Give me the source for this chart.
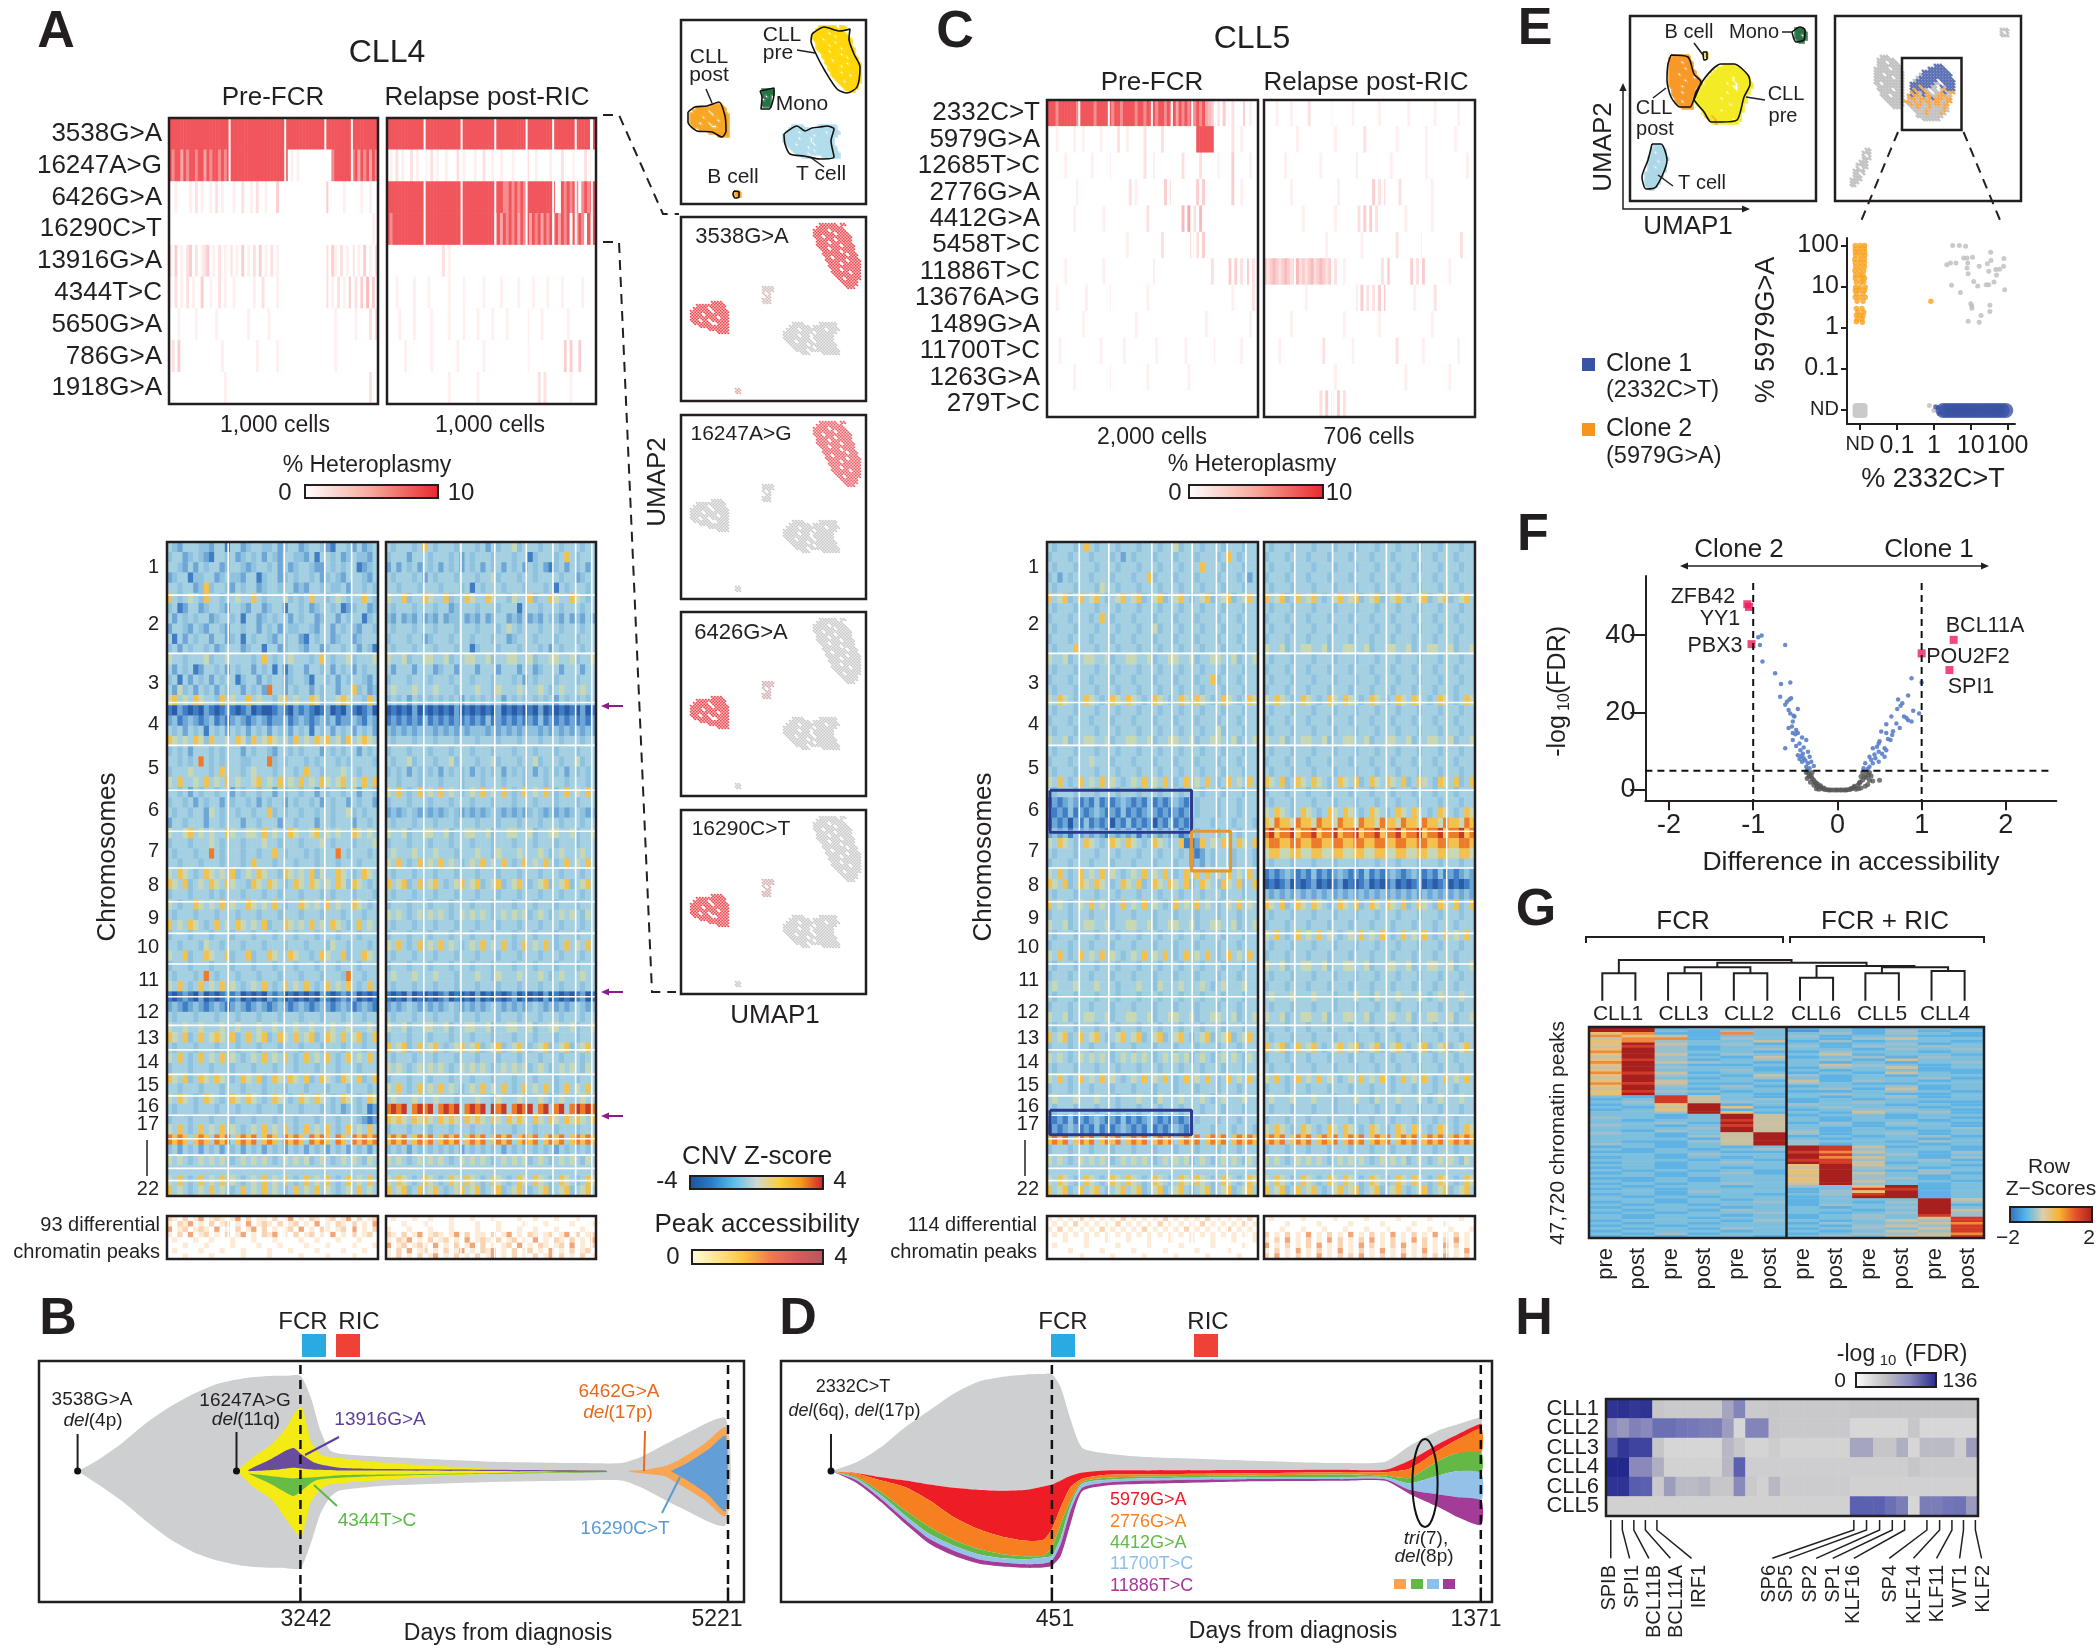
<!DOCTYPE html>
<html style="height: 100%">

<head>
    <meta charset="utf-8">
</head>

<body style="height: 100%; margin: 0; background: #fff">
    <div id="main" style="width: 2100px; height: 1652px"></div>

    <script type="text/javascript" src="https://cdn.jsdelivr.net/npm/echarts@6/dist/echarts.min.js"></script>

    <script type="text/javascript">
        // ---- panel A / C mutation heatmaps (one digit per cell, 0-9 = % heteroplasmy)
        var cll4Mutations = ['3538G>A', '16247A>G', '6426G>A', '16290C>T', '13916G>A', '4344T>C', '5650G>A', '786G>A', '1918G>A'];
        var cll4PreMut = [
            '888888888888888888888888888888888888888888888888888888888888888888888888',
            '868858688688586886868888888888888888888880101000000000006888888685868586',
            '001000010201001020100010020010200100030000000000000000300000100000100100',
            '000000000000000000000000000000000000000000000000000000000000000000000010',
            '203010230201230102010201030102030102010000000000000000203102010201030102',
            '102010201003001002010010000001002000010000000000000000201020103020304030',
            '000100000100000010000000000100000010000000000000000000000100000010000202',
            '020300000000000000100000000000100000010000000000000000000100000000000000',
            '000000000000000000010000000000000000000000000000000000000000000000000200'
        ];
        var cll4PostMut = [
            '888888888888888888888888888888888888888888888888888888888888888888888808',
            '010201002010010201001000201000100200100100010000200100001000200010002010',
            '888888888888888888888888888888888888888866868686888888888800868686068688',
            '868888888888888888888888888888888888868586868586858685868685868085860868',
            '000000000000000000020100000000000000000000000000000000000000000000000000',
            '000100000100001000000100001000000100000100000100001000010000100000010000',
            '000010000100000100000100001000010000100001000000100001000000001000000000',
            '000000100000000100000000100000000100000000000000100000000000030300300000',
            '000000000000000000000100000000010000000000000000000020200000000100000000'
        ];
        var cll5Mutations = ['2332C>T', '5979G>A', '12685T>C', '2776G>A', '4412G>A', '5458T>C', '11886T>C', '13676A>G', '1489G>A', '11700T>C', '1263G>A', '279T>C'];
        var cll5PreMut = [
            '888688888868888868888868868888688688868868685868686868543020310200030100',
            '000100000100100000100000200100000200000200000000000888888000000200100000',
            '000000100000000100000100000000000200100000000020000020000010000300000100',
            '000000000010000000000000000020100000000030200000000303000000000300100000',
            '000000000100000000010000000000000020000000000040502040000000000000000000',
            '000000000000000000000000000100000000000200000000030203000000000000000000',
            '000000100000000000010000000000000000100000000000000000002000003030203020',
            '000100000000010000000100000000000010000000000000000000000000000100000020',
            '000000000000100000000000000000100000000000000000000000100000000000000100',
            '000010000000000000100000001000000000010000000001000000000100000000100000',
            '000000000100000000000100000000000010000000000000100000000000000000000000',
            '000000000000000000000000000000000000000000000000000000000000000000000000'
        ];
        var cll5PostMut = [
            '000010000100000200000001000000100000000100000000010000000010000000100000',
            '000000000001000000000000100000000020000000000100000000010000000001000000',
            '000000010000000000010000000000020000000000010000000000010000000000000100',
            '000000000100000000000000010000000000030202000020000000000100000000000000',
            '000000000000010000000000100000002030302000000000100000000100000000000000',
            '000000000000000000000100000000000100000000000200000001000000000000020000',
            '323432343234232342343230200100000000000020300000003020300000000100000000',
            '000000000000001000000000000000020302020303000000000100000020000000000000',
            '000000000100000000000000000100000000000100000000000000000100000000000000',
            '000001000000000000002000000000100000000000000200000000100000000000100000',
            '000000000000000000000000100000000000000000000000100000000000000100000000',
            '000000000000000000020302030200000000000000000000000000000000000000000000'
        ];

        // ---- CNV Z-score heatmaps (digit 0 = -4 ... 9 = +4), rows run top to bottom
        // coarse hand-typed estimate: only the large bands are read from the picture,
        // the speckle between them is patterned and is not cell-level data
        var cll4PreCnv = [
            '4324443324414423443342344234432144324234', '3442343214434234342432443324144342343324',
            '4432424344234432344342423443224343441234', '2344133442343324413442343443423432444324',
            '4434423734432434423443442324434334244343', '7434643744344644743444634347443464344743',
            '3412442344324432442344144342344341234423', '4243434423443414423434424344234424344134',
            '2443243244324434424342433443244243432443', '4142434424423414344324344214344234423444',
            '3424344342344423441442344324423443442431', '6443444634464444347434464443474344634446',
            '4243412443424344243414134424434243424344', '3414243424344134424344234431443424344324',
            '4263424342434424342844243442434424473423', '6746476443746447464436746447634467644374',
            '1021010210121012010012102121012010210120', '2312321231212321232122312321232312232132',
            '4342434143424342434243424341434243424342', '7646476374464763746764637464767463746764',
            '3434244434344424344324434344424343442434', '4434348434344433444834344434344434344443',
            '3444644434744434644434443474434446443444', '6474464746474644674647464746476467464747',
            '4434243443442434434424344344243443442443', '3443424344243443424344243443424344243442',
            '4344344264344344344734344344344344634344', '2443444244344424434442443444244344424434',
            '6446746464476446647464476446746464476464', '3444344464344434446443444344464344434446',
            '4344434484344434434474344434344484344434', '4434443444344434744434443444344434443444',
            '6476434764647346476443764647364476434764', '7647346476476443764764347647646476376434',
            '3444344434344434443443444344434344434443', '6434476464746447646474344764647464476434',
            '4344434443444344434443444344434443444344', '7464764347464764647344764647464764347464',
            '3444344434443444344434443444344434443444', '4434443644344434443444344434443644344434',
            '6447344764473447344764476443476447344764', '3444344434443444344434443444344434443444',
            '4344434843444344434443444344434443844344', '6474347464746434647434746474347464743474',
            '1012102010121201010212010101021012120101', '2321232123212321232123212321232123212321',
            '4344434443444344434443444344434443444344', '6446446444644644464464446446444644644464',
            '7647347467647347467347647467347647467347', '4344434443444344434443444344434443444344',
            '6474347464746434647464743474647434746474', '3444344434443444344434443444344434443444',
            '7647347647643476473476476473476437647347', '4434443444344434443444344434443444344434',
            '6476434764347647643476434764764347643476', '4344434443444344434443444344434342343412',
            '3444344434443444344434443444344434443212', '6474347464746434647464743474647434746474',
            '8787478748784787847874878748787487487878', '3424342434243424342434243424342434243424',
            '6464346464643464646434646463464346464364', '4444444444444444444444444444444444444444',
            '6474347464746434647464743474647434746474', '7464346474643474647464347464746434647464'
        ];
        var cll4PostCnv = [
            '4344434743444344434243446344434443444344', '3444244434443424344434443441344434743444',
            '2424342434243424342434243424342134243424', '4344434243444344434463444344344443442344',
            '4434443444344434143444344434443414344434', '6447344764473447644764436447344764476434',
            '4344434443442344434443444144434443444344', '3242324232423342324234423242324332423242',
            '4344434443444344434443464344434443444344', '3444344234443444344434423444344434443444',
            '4344434443444344134443444344434243444344', '6446344664463446644634466446344664463446',
            '4244424442344244424442444244234442444244', '3444344434443444344434443424344434443444',
            '4644464446444344464436444644464346444644', '3434243434343424343434243434343424343434',
            '0101020101010201010102010101020101010201', '1212121312121212121312121212131212121212',
            '3232323332323232333232323233323232323232', '4344434443444344434443444344434443444344',
            '3444344434443444344434443444344434443444', '4344634443446344434463444344634443446344',
            '3434243434243434243434243434243434243434', '4434443444344434443444344434443444344434',
            '6474347464746434647464743474647434746474', '3444344434443444344434443444344434443444',
            '2323432323234323232343232323432323234323', '4344434443444344434443444344434443444344',
            '6446344664463446644634466446344664463446', '3444344434443444344434443444344434443444',
            '4644464446444344464436444644464346444644', '6474347464746434647464743474647434746474',
            '4344434443444344434443444344434443444344', '7467347467434674673467346743467346734674',
            '4344434443444344434443444344434443444344', '3444344434443444344434443444344434443444',
            '6464346464643464646434646463464346464364', '4344434443444344434443444344434443444344',
            '3444344434443444344434443444344434443444', '6474347464746434647464743474647434746474',
            '4344434443444344434443444344434443444344', '3444344434443444344434443444344434443444',
            '4644464446444344464436444644464346444644', '4344434443444344434443444344434443444344',
            '1010201010120101020101012010102010101201', '2323432323234323232343232323432323234323',
            '4344434443444344434443444344434443444344', '6446344664463446644634466446344664463446',
            '3444344434443444344434443444344434443444', '7467347467434674673467346743467346734674',
            '4344434443444344434443444344434443444344', '6464346464643464646434646463464346464364',
            '3444344434443444344434443444344434443444', '6474347464746434647464743474647434746474',
            '4644464446444344464436444644464346444644', '8989489894898948989498948989489489489898',
            '7676476764767647676476476764764764767647', '3444344434443444344434443444344434443444',
            '7878478784787847878478784787847878478787', '3434243434343424343434243434343424343434',
            '6464346464643464646434646463464346464364', '4444444444444444444444444444444444444444',
            '6476434764347647643476434764764347643476', '7467347467434674673467346743467346734674'
        ];
        var cll5PreCnv = [
            '4344434743444344434443446344434443444344', '3444344434443424344434443444344434743444',
            '4344434443444344434443444344474443444344', '3424344434443444344734443444344434443424',
            '4344434443644344434443444344434443444344', '7467347467434674673467346743467346734674',
            '4344434443444344434443444344434443444344', '3444344434743444344434443444344434443444',
            '4344434443444344434463444344434443444344', '3444344434443444344434443444344434443444',
            '4344474443444344434443444344434443444344', '6446344664463446644634466446344664463446',
            '4344434443444344434443444344434443444344', '3444344434443444344434443444344734443444',
            '4344434443444344434443444344434443444344', '6476434764347647643476434764764347643476',
            '4344434443444344434443444344434443444344', '3444344434443444344434443444344434443444',
            '4344434443444344434443444344434463444344', '6446344664463446644634466446344664463446',
            '4344434443444344434443444344434443444344', '3444344464443444344434443444344434443444',
            '4344434443444344434443444344434443444344', '6474347464746434647464743474647434746474',
            '4344434443444344434443444344434443444344', '1212321213121232121312123214344434443444',
            '2121312123212131212321212124344434443444', '1212021312120213121202131213444344434443',
            '2323132323213232313232323124344434443444', '6476434764347647643476434711274647647647',
            '4344434443444344434443444342124344434443', '3444344434443444344434443442324344434443',
            '6474347464746434647464743474747464746474', '7647347647643476473476476473476437647347',
            '4344434443444344434443444344434443444344', '7464346474643474647464347464746434647464',
            '3444344434443444344434443444344434443444', '6446344664463446644634466446344664463446',
            '4344434443444344434443444344434443444344', '3444344434443444344434443444344434443444',
            '6474347464746434647464743474647434746474', '4344434443444344434443444344434443444344',
            '3444344434443444344434443444344434443444', '4644464446444344464436444644464346444644',
            '4344434443444344434443444344434443444344', '3444344434443444344434443444344434443444',
            '6446344664463446644634466446344664463446', '4344434443444344434443444344434443444344',
            '7467347467434674673467346743467346734674', '3444344434443444344434443444344434443444',
            '6464346464643464646434646463464346464364', '4344434443444344434443444344434443444344',
            '6474347464746434647464743474647434746474', '3444344434443444344434443444344434443444',
            '4644464446444344464436444644464346444644', '4344434443444344434443444344434443444344',
            '2121312123212131212321212124344434443444', '1212321213121232121312123213444344434443',
            '7878478784787847878478784787847878478787', '3444344434443444344434443444344434443444',
            '6464346464643464646434646463464346464364', '4444444444444444444444444444444444444444',
            '6476434764347647643476434764764347643476', '7467347467434674673467346743467346734674'
        ];
        var cll5PostCnv = [
            '4344434443444344434443444344434443444344', '3444344434443444344434443444344434443444',
            '4344434443444344434443444344434443444344', '3444344434443444344434443444344434443444',
            '4344434443444344434443444344434443444344', '7467347467434674673467346743467346734674',
            '4344434443444344434443444344434443444344', '3444344434443444344434443444344434443444',
            '4344434443444344434443444344434443444344', '3444344434443444344434443444344434443444',
            '6446344664463446644634466446344664463446', '4344434443444344434443444344434443444344',
            '3444344434443444344434443444344434443444', '4344434443444344434443444344434443444344',
            '3444344434443444344434443444344434443444', '6476434764347647643476434764764347643476',
            '4344434443444344434443444344434443444344', '3444344434443444344434443444344434443444',
            '4344434443444344434443444344434443444344', '6446344664463446644634466446344664463446',
            '4344434443444344434443444344434443444344', '3444344434443444344434443444344434443444',
            '4344434443444344434443444344434443444344', '7647347647643476473476476473476437647347',
            '3444344434443444344434443444344434443444', '4344434443444344434443444344434443444344',
            '6476434764347647643476434764764347643476', '7687768776877687768776877687768776877687',
            '8978897889788978897889788978897889788978', '7887788778877887788778877887788778877887',
            '6776677667766776677667766776677667766776', '4344434443444344434443444344434443444344',
            '1212321213121232121312123212321213121232', '0101201012010120101201012010120101201012',
            '3232323232323232323232323232323232323232', '7647347647643476473476476473476437647347',
            '4344434443444344434443444344434443444344', '3444344434443444344434443444344434443444',
            '6474347464746434647464743474647434746474', '4344434443444344434443444344434443444344',
            '3444344434443444344434443444344434443444', '6446344664463446644634466446344664463446',
            '4344434443444344434443444344434443444344', '3444344434443444344434443444344434443444',
            '4644464446444344464436444644464346444644', '4344434443444344434443444344434443444344',
            '6446344664463446644634466446344664463446', '3444344434443444344434443444344434443444',
            '4344434443444344434443444344434443444344', '7467347467434674673467346743467346734674',
            '3444344434443444344434443444344434443444', '4344434443444344434443444344434443444344',
            '6474347464746434647464743474647434746474', '3444344434443444344434443444344434443444',
            '4644464446444344464436444644464346444644', '4344434443444344434443444344434443444344',
            '3444344434443444344434443444344434443444', '6476434764347647643476434764764347643476',
            '7878478784787847878478784787847878478787', '3444344434443444344434443444344434443444',
            '6464346464643464646434646463464346464364', '4444444444444444444444444444444444444444',
            '6476434764347647643476434764764347643476', '7467347467434674673467346743467346734674'
        ];
        var chrNames = ['1', '2', '3', '4', '5', '6', '7', '8', '9', '10', '11', '12', '13', '14', '15', '16', '17', '22'];
        var chrMidRows = [2.5, 8.1, 13.8, 17.9, 22.2, 26.3, 30.3, 33.6, 36.8, 39.7, 42.9, 46, 48.6, 50.9, 53.2, 55.2, 57, 63.4];
        var chrBreakRows = [5.2, 10.9, 15.7, 19.9, 24.3, 28.3, 31.9, 35.2, 38.3, 41.3, 44.5, 47.3, 49.7, 52.1, 54.2, 56.1, 58.4, 60, 61.3, 62.5];
        var cll4PreBreaks = [0.29, 0.556, 0.748, 0.875];
        var cll4PostBreaks = [0.18, 0.357, 0.518, 0.668, 0.795, 0.903, 0.98];
        var cll5PreBreaks = [0.153, 0.293, 0.497, 0.592, 0.688, 0.803, 0.854, 0.943];
        var cll5PostBreaks = [0.146, 0.325, 0.433, 0.58, 0.739, 0.866];

        // ---- differential peak strips (digit 0-9), patterned estimate, not cell-level data
        var cll4PrePeaks = [
            '2102013012101302011020130102101201302012', '1021301020120103012102012010301021020103',
            '3012012103010201302010120301021012030102', '1020301201020130102130102012010301020120',
            '0100010010001000100010000100100010001000', '0001000100001000010001000010001000010001',
            '0100001000100010000100010000100001000100', '0001000010000010000100000100001000010000'
        ];
        var cll4PostPeaks = [
            '0100010010001000100010000100100010001000', '0001000100001000010001000010001000010001',
            '1000100010001000010001000100100010000100', '2102013012101302011020130102101201302012',
            '1021301020120103012102012010301021020103', '3012012103010201302010120301021012030102',
            '1020301201020130102130102012010301020120', '1020102013010201020130102010201302010201'
        ];
        var cll5PrePeaks = [
            '1010102010101020101010201010102010101020', '0101020101010201010102010101020101010201',
            '1020101010201010102010101020101010201010', '0101010101010101010101010101010101010101',
            '0001000100010001000100010001000100010001', '0100000100000100000100000100000100000100',
            '0000100000100000100000100000100000100000', '0000001000001000001000001000001000001000'
        ];
        var cll5PostPeaks = [
            '0100000100000100000100000100000100000100', '0000100000100000100000100000100000100000',
            '0001000100010001000100010001000100010001', '2010201030102010301020103010201030102010',
            '1020301020103020102030102010302010203010', '3010201020301020103020102030102010302010',
            '1020103010201030102010301020103010201030', '2030102010301020203010201030102020301020'
        ];

        // ---- UMAP cells: [row, first col, cluster letters]; '.' = no cell
        var umapCellsA = [
            [2, 46, 'yyyyyy.yy'], [3, 45, 'yyyyyyyyy'], [4, 44, 'yyyyy.yyyyy'], [5, 44, 'yyyyyyy.yyyy'], [6, 44, 'yyy.yyyyyyyyy'],
            [7, 45, 'yyyyyy.yyyyy'], [8, 45, 'yyyy.yyyyyyy'], [9, 45, 'yyyyyyyy.yyyy'], [10, 46, 'yyy.yyyyyyyy'], [11, 47, 'yyyyyy.yyyy'],
            [12, 47, 'yyyyyyyy.yyy'], [13, 48, 'yy.yyyyyyyy'], [14, 48, 'yyyyyyy.yyyy'], [15, 49, 'yyyy.yyyyyy'], [16, 49, 'yyyyyyyyyyy'],
            [17, 50, 'yyy.yyyyyy'], [18, 50, 'yyyyyy.yyy'], [19, 51, 'yyyyyyyyy'], [20, 52, 'yy.yyyyy'], [21, 53, 'yyyyyy'], [22, 54, 'yyyyy'], [23, 55, 'yyy'],
            [28, 10, 'oooo'], [29, 5, 'oooooooooo'], [30, 4, 'ooooo.ooooo'], [31, 3, 'ooooooo.ooooo'], [32, 3, 'oooo.oooooooo'], [33, 3, 'ooooooooo.ooo'],
            [34, 3, 'ooo.oo.oooooo'], [35, 4, 'oooooo..oooo'], [36, 6, 'oooooooooo'], [37, 9, 'ooooooo'], [38, 12, 'oooo'],
            [23, 27, 'mmmm'], [24, 27, 'mmmm'], [25, 27, 'm.m'], [26, 28, 'mm'], [27, 27, 'mmm'], [28, 27, 'mmm'],
            [35, 37, 'tttt.....tttttt'], [36, 36, 'ttttttt.tttttttt'], [37, 35, 'tttt.tttttttt.tttt'], [38, 34, 'tttttttttt.ttttttt'], [39, 34, 'ttttt.ttt.ttttttt'],
            [40, 34, 'ttttttttt.ttttttt'], [41, 35, 'ttt.ttttt.tttttt'], [42, 36, 'tttttt.ttttttttt'], [43, 37, 'ttttttt.ttttttt'], [44, 38, 'tttt.tttttttttt'], [45, 40, 'ttt....tttttt'],
            [57, 18, 'bb'], [58, 18, 'bb']
        ];
        var umapCellsE1 = [
            [13, 14, 'oooooo'], [14, 13, 'ooooooo'], [15, 13, 'oooo.ooo'], [16, 13, 'oooooooo'], [17, 13, 'ooooo.oo'], [18, 13, 'ooooooooo'], [19, 13, 'ooo.ooooo'],
            [20, 13, 'oooooooo.o'], [21, 13, 'ooooo.ooooo'], [22, 13, 'ooooooooooo'], [23, 13, 'oooo.ooooo'], [24, 14, 'oooooooo'], [25, 14, 'ooo.oooo'], [26, 14, 'oooooooo'],
            [27, 15, 'oooooo'], [28, 15, 'oo.ooo'], [29, 16, 'ooooo'], [30, 17, 'oooo'],
            [16, 31, 'yyyy'], [17, 29, 'yyyyyyyy'], [18, 28, 'yyyyyyyyyy'], [19, 27, 'yyyyyyyyyyyy'], [20, 26, 'yyyyyyyy.yyyyy'], [21, 25, 'yyyyyyyyy.yyyyy'], [22, 25, 'yyyyyyy.yy.yyyyy'],
            [23, 24, 'yyyyyyyyyy..yyyyy'], [24, 23, 'yyyyyyyyyyyy.yyyy'], [25, 23, 'yyyyyyyyy.yyyyyyy'], [26, 22, 'yyyyyyyyyyyyyyyyy'], [27, 22, 'yyyyyyyy.yyyyyyyy'], [28, 21, 'yyyyyyyyyyyyyyyyyy'],
            [29, 22, 'yyyyyyyyyyy.yyyy'], [30, 23, 'yyyyyyyyyyyyyyy'], [31, 24, 'yyyyyy.yyyyyyy'], [32, 24, 'yyyyyyyyyyyyy'], [33, 25, 'oyoyyyyyyyyy'], [34, 26, 'oyoyyyyy.yy'], [35, 27, 'yoyyyyyyy'],
            [43, 8, 'ttt'], [44, 7, 'ttttt'], [45, 7, 't.ttt'], [46, 7, 'ttttt'], [47, 6, 'ttttttt'], [48, 6, 'ttt.tt'], [49, 6, 'tttttt'], [50, 6, 'tt.ttt'], [51, 6, 'tttttt'],
            [52, 5, 'tttttt'], [53, 5, 'tttttt'], [54, 5, 'ttttt'], [55, 5, 'ttttt'], [56, 5, 'tttt'], [57, 6, 'tt'],
            [4, 55, 'mmm'], [5, 55, 'mmmm'], [6, 55, 'mm.m'], [7, 55, 'mmmm'], [8, 56, 'mm'], [12, 25, 'b'], [13, 25, 'b']
        ];
        var umapCellsE2 = [
            [13, 15, 'ggg'], [14, 14, 'gggggg'], [15, 14, 'ggg.ggg'], [16, 14, 'gggggggg'], [17, 13, 'ggggg.ggg'], [18, 13, 'gggggggggg'], [19, 13, 'ggg.gggggg'], [20, 13, 'gggggg.ggg'],
            [21, 13, 'gggggggggg'], [22, 13, 'gg.ggggggg'], [23, 14, 'ggggggggg'], [24, 14, 'ggggg.ggg'], [25, 15, 'gggggggg'], [26, 15, 'ggg.gggg'], [27, 16, 'ggggggg'], [28, 17, 'gggggg'], [29, 18, 'ggggg'], [30, 19, 'ggg'],
            [16, 33, 'bbb'], [17, 31, 'bbbbbb'], [18, 29, 'bbbbbbbbb'], [19, 28, 'gbbbbbbbbbb'], [20, 27, 'gbbbbbbbbbbb'], [21, 26, 'gbbbbbbb.bbbbb'], [22, 25, 'bbbbbbbbgg.bbbb'],
            [23, 25, 'bbbobbbgg.bgbbb'], [24, 25, 'bobbog.gg.gobbb'], [25, 25, 'obogbog.ggobgoo'], [26, 24, 'oboogbooggooogg'], [27, 24, 'googoogobooogoo'], [28, 23, 'oogogogoogooggoo'],
            [29, 24, 'gogooggogoogoo'], [30, 25, 'ggogggoggggog'], [31, 26, 'ggggogggggog'], [32, 27, 'gggoggggog'], [33, 27, 'ggggggggg'], [34, 29, 'gggggg'],
            [44, 10, 'gg'], [45, 9, 'ggg'], [46, 9, 'g.g'], [47, 9, 'ggg'], [48, 8, 'ggg'], [49, 7, 'gggg'], [50, 7, 'g.gg'], [51, 6, 'gggg'], [52, 6, 'gg.g'], [53, 6, 'ggg'], [54, 5, 'gggg'], [55, 5, 'ggg'], [56, 5, 'gg'],
            [4, 55, 'ggg'], [5, 55, 'g.g'], [6, 55, 'ggg']
        ];
        var outlinePreA = [[131, 14], [143, 7], [159, 11], [169, 9], [168, 19], [173, 34], [179, 47], [176, 67], [166, 73], [156, 69], [144, 51], [134, 32], [130, 21], [131, 14]];
        var outlinePostA = [[7, 92], [14, 87], [26, 86], [38, 82], [44, 96], [45, 111], [41, 117], [31, 112], [16, 111], [7, 102], [7, 92]];
        var outlineMonoA = [[79, 71], [93, 68], [93, 74], [88, 89], [80, 89], [81, 77], [79, 71]];
        var outlineTA = [[103, 114], [116, 106], [124, 111], [131, 108], [139, 107], [146, 106], [153, 109], [150, 121], [153, 137], [139, 139], [123, 136], [109, 134], [104, 124], [103, 114]];
        var outlineBA = [[53, 171], [58, 172], [58, 177], [54, 178], [52, 174], [53, 171]];
        var outlinePostE = [[41, 39], [58, 41], [64, 58], [71, 66], [66, 76], [60, 91], [50, 91], [41, 81], [37, 64], [38, 48], [41, 39]];
        var outlinePreE = [[64, 84], [74, 63], [91, 48], [104, 48], [118, 59], [120, 68], [114, 81], [107, 104], [91, 106], [81, 106], [74, 96], [68, 89], [64, 84]];
        var outlineTE = [[22, 128], [31, 128], [37, 144], [26, 171], [16, 173], [12, 161], [18, 144], [22, 128]];
        var outlineMonoE = [[162, 16], [170, 11], [175, 14], [174, 24], [166, 26], [162, 16]];
        var outlineBE = [[73, 36], [77, 36], [77, 43], [74, 44], [73, 36]];

        // ---- panel B fish plot (x = days, y = relative width around the midline)
        var bGrayDays = [2211, 2301, 2413, 2525, 2638, 2750, 2862, 2975, 3087, 3177, 3242, 3289, 3334, 3379, 3424, 3649, 4098, 4547, 4727, 4817, 4997, 5210];
        var bGrayTop = [0, 32, 82, 142, 192, 232, 262, 277, 284, 285, 285, 222, 122, 62, 52, 42, 29, 24, 24, 42, 102, 157];
        var bGrayBottom = [0, -38, -88, -148, -203, -243, -268, -283, -289, -290, -290, -218, -128, -78, -58, -43, -33, -28, -28, -48, -108, -161];
        var bYellowDays = [2948, 3020, 3109, 3177, 3222, 3249, 3289, 3334, 3379, 3649, 4098, 4660];
        var bYellowTop = [0, 40, 80, 130, 180, 192, 90, 50, 42, 24, 8, 1];
        var bYellowBottom = [0, -45, -85, -145, -185, -192, -95, -55, -40, -25, -8, -1];
        var bPurpleDays = [3002, 3109, 3177, 3211, 3244, 3312, 3424, 3649, 4660];
        var bPurpleTop = [4, 37, 62, 69, 52, 24, 10, 6, 1];
        var bPurpleBottom = [0, 3, 8, 10, 8, 4, 2, 2, -2];
        var bGreenDays = [3002, 3109, 3177, 3211, 3244, 3312, 3424, 3649, 4098, 4660];
        var bGreenTop = [-7, -15, -20, -22, -20, -18, -12, -10, -6, -2];
        var bGreenBottom = [-8, -40, -65, -74, -60, -28, -20, -14, -8, -3];
        var bOrangeDays = [4761, 4840, 4929, 4997, 5109, 5210];
        var bOrangeTop = [1, 4, 15, 35, 80, 130];
        var bOrangeBottom = [-1, -8, -15, -40, -85, -135];
        var bBlueDays = [4956, 5042, 5131, 5210];
        var bBlueTop = [0, 28, 65, 105];
        var bBlueBottom = [0, -32, -72, -120];

        // ---- panel D fish plot, layers share one set of days
        var dDays = [-22, 33, 85, 137, 189, 241, 293, 345, 397, 433, 451, 470, 491, 516, 568, 657, 865, 1073, 1166, 1218, 1281, 1322, 1372];
        var dGrayTop = [0, 27, 72, 132, 182, 232, 267, 282, 289, 290, 290, 250, 155, 70, 53, 42, 32, 24, 28, 75, 122, 140, 160];
        var dRedTop = [0, -6, -18, -28, -40, -50, -56, -59, -56, -46, -40, -28, -14, -4, 2, 2, 3, 4, 4, 32, 82, 110, 142];
        var dOrangeTop = [0, -8, -28, -48, -88, -138, -173, -196, -208, -205, -173, -108, -48, -23, -11, -9, -6, -3, -3, 7, 62, 95, 127];
        var dGreenTop = [0, -18, -63, -118, -168, -206, -233, -248, -254, -252, -228, -158, -88, -33, -20, -16, -13, -10, -13, -20, 32, 54, 54];
        var dBlueTop = [0, -23, -73, -133, -188, -223, -248, -260, -263, -258, -253, -198, -103, -38, -26, -21, -18, -18, -18, -36, -13, 0, -6];
        var dPurpleTop = [0, -28, -83, -146, -203, -238, -263, -273, -278, -276, -268, -218, -118, -50, -34, -28, -24, -24, -24, -56, -70, -78, -88];
        var dPurpleBottom = [0, -36, -93, -158, -218, -253, -276, -285, -289, -288, -283, -253, -158, -60, -43, -38, -31, -29, -29, -68, -108, -138, -161];

        // ---- panel E clone scatter, log10 % with ND at -2
        var cloneGrayX = [0.51, 0.69, 0.86, 1.54, 0.81, 0.9, 1.05, 1.9, 1.55, 0.35, 0.45, 0.6, 0.92, 1.23, 1.45, 0.9, 1.89, 1.68, 1.78, 0.93, 1.7, 1.49, 1.08, 1.63, 0.48, 1.19, 1.42, 1.49, 1.92, 0.72, 1.0, 1.03, 1.52, 1.03, 1.52, 1.28, 0.93, 1.23, -0.12, 0];
        var cloneGrayY = [2, 2, 1.98, 1.83, 1.69, 1.69, 1.71, 1.68, 1.63, 1.53, 1.57, 1.57, 1.57, 1.49, 1.55, 1.45, 1.49, 1.41, 1.42, 1.31, 1.28, 1.37, 1.12, 1.11, 1.03, 1.01, 1.04, 1.04, 0.92, 0.85, 0.58, 0.53, 0.54, 0.47, 0.39, 0.29, 0.15, 0.13, -1.9, -2.02];
        var clone2X = [-2.13, -2, -1.88, -2.13, -2, -1.88, -2.13, -2.02, -1.88, -2.12, -1.98, -1.87, -2.14, -2, -1.88, -2.13, -2, -1.88, -2.12, -2, -1.88, -2.14, -2.02, -1.9, -2.12, -2, -1.92, -2.13, -1.98, -1.88, -2.1, -1.98, -1.9, -2.12, -2, -1.86, -2.13, -2.02, -1.88, -2.1, -1.92, -2.13, -2, -1.86, -2.08, -1.92, -2.1, -1.95, -2.06, -1.9, -2.1, -2, -1.92, -2.08, -1.95, -2.1, -1.94, -0.08];
        var clone2Y = [2, 2, 2, 1.92, 1.92, 1.92, 1.84, 1.84, 1.84, 1.76, 1.76, 1.76, 1.66, 1.66, 1.66, 1.58, 1.58, 1.58, 1.48, 1.48, 1.48, 1.38, 1.38, 1.38, 1.28, 1.28, 1.28, 1.2, 1.2, 1.2, 1.1, 1.1, 1.1, 0.98, 0.98, 0.98, 0.9, 0.9, 0.9, 0.82, 0.82, 0.74, 0.74, 0.74, 0.64, 0.64, 0.46, 0.46, 0.38, 0.38, 0.3, 0.3, 0.28, 0.2, 0.2, 0.14, 0.13, 0.64];
        var clone1X = [0.25, 0.35, 0.45, 0.55, 0.65, 0.75, 0.85, 0.95, 1.05, 1.15, 1.25, 1.35, 1.45, 1.55, 1.65, 1.75, 1.85, 1.95, 0.15, 0.05, 0.12];
        var clone1Y = [-2.02, -2.02, -2.02, -2.02, -2.02, -2.02, -2.02, -2.02, -2.02, -2.02, -2.02, -2.02, -2.02, -2.02, -2.02, -2.02, -2.02, -2.02, -2.08, -1.93, -1.96];

        // ---- panel F volcano
        var volcanoHitX = [-1.07, -1.05, -1.02, 1.38, 1.0, 1.33];
        var volcanoHitY = [48, 47.3, 37.7, 38.8, 35.3, 31];
        var volcanoBlueX = [-0.9, -0.94, -0.92, -0.89, -0.62, -0.74, -0.67, -0.56, -0.68, -0.55, -0.6, -0.62, -0.58, -0.47, -0.56, -0.51, -0.53, -0.58, -0.49, -0.53, -0.47, -0.42, -0.53, -0.37, -0.49, -0.4, -0.62, -0.44, -0.35, -0.47, -0.4, -0.33, -0.42, -0.35, -0.31, -0.37, -0.33, -0.45, -0.28, -0.52, -0.5, -0.45, -0.57, -0.54, -0.41, -0.38, -0.43, -0.36,
            0.88, 1, 0.84, 0.72, 0.77, 0.71, 0.9, 0.97, 0.79, 0.64, 0.58, 0.84, 0.88, 0.7, 0.74, 0.52, 0.58, 0.65, 0.63, 0.49, 0.56, 0.42, 0.49, 0.58, 0.38, 0.45, 0.56, 0.33, 0.42, 0.49, 0.38, 0.31, 0.5, 0.47, 0.53, 0.6, 0.44, 0.82, 0.66, 0.75, 0.36, 0.4];
        var volcanoBlueY = [39.9, 39.5, 37.5, 33.2, 37.5, 30.2, 27.4, 27.8, 24.1, 23.7, 22.8, 22, 20.7, 20.9, 19.8, 19, 17.7, 16, 15.5, 14.7, 14.7, 13.6, 12.9, 12.9, 11.4, 11, 10.8, 10.3, 9.9, 9, 8.2, 8.6, 7.3, 6.9, 7.3, 6, 5.6, 8, 6.2, 19.2, 14.4, 12, 23.4, 16.4, 9.4, 7.6, 8.8, 5.4,
            28.9, 27.8, 24.4, 23.4, 22.4, 20.9, 20.5, 19.8, 19, 19, 17, 18, 17.7, 17.2, 16, 15.1, 14.7, 14.2, 12.9, 12, 10.8, 10.8, 9.9, 10.3, 8.6, 8.2, 8.6, 6.9, 6.9, 7.3, 6, 5.6, 12.6, 11.2, 9.4, 13.2, 9.2, 18.6, 15.2, 21.8, 5.4, 7.8];
        var volcanoGrayX = [-0.37, -0.33, -0.36, -0.3, -0.28, -0.32, -0.25, -0.24, -0.2, -0.18, -0.15, -0.12, -0.1, -0.08, -0.05, -0.02, 0, 0.03, 0.05, 0.08, 0.1, 0.12, 0.15, 0.18, 0.2, 0.24, 0.26, 0.3, 0.32, 0.35, 0.28, 0.38, 0.5, 0.42, 0.36, 0.33, 0.25, -0.28, -0.34, -0.3, 0.3, 0.38, 0.4, -0.25, -0.22, 0.22, 0.28, -0.35, -0.31, -0.27, -0.23, 0.27, 0.34, 0.37, -0.2, 0.2, -0.16, 0.16];
        var volcanoGrayY = [4.5, 4, 3, 3, 2.5, 2, 1.8, 1, 0.7, 0.3, 0.1, 0.05, 0, 0, 0, 0, 0, 0, 0, 0, 0, 0.05, 0.1, 0.4, 0.7, 1.2, 1.8, 2.6, 3.5, 4.5, 3.5, 2.5, 2.5, 2.3, 1.4, 1, 0.3, 1.2, 3.5, 4.5, 4.5, 4.5, 3.6, 0.3, 0.2, 0.2, 0.5, 4.7, 3.6, 2, 1.4, 2.1, 3.2, 3.8, 1.1, 1, 0.5, 0.4];

        // ---- panel G peaks heatmap, digit 0 = -2 ... 9 = +2, 12 columns
        var gNames = ['pre', 'post', 'pre', 'post', 'pre', 'post', 'pre', 'post', 'pre', 'post', 'pre', 'post'];
        var gRows = [
            '992324232342', '993243132423', '672273342432', '765233423322', '577243324533', '674335242332',
            '695342323423', '584233424343', '694234332434', '794332243323', '695243352332', '594325234243',
            '684234342533', '795432323234', '693223354323', '594332243523', '693342323322', '785233232532',
            '694325423233', '593234323342', '695332524323', '785223432233', '694342233423', '593233342523',
            '684323223432', '693232343223', '328532323423', '238534232333', '348543234322', '236923433232',
            '325962343323', '236923234432', '334962325342', '332395233233', '432395323232', '323385323323',
            '334295242432', '432385332332', '333495323234', '324395423323', '432359423423', '332459232342',
            '333259323323', '322459433243', '432359423323', '232323985232', '323234984332', '223322875324',
            '332433983423', '232323975324', '333232884342', '232343985233', '332333695332', '232323594423',
            '323232693243', '232342695342', '332333594323', '223233694423', '323233695332', '232343594323',
            '323323436923', '232333238823', '332433246923', '232332348923', '323233239923', '332323233395',
            '232334232494', '323233243392', '233323323493', '323243332395', '232334323494', '323323234384',
            '323233234358', '233324323548', '323233243457', '232333324548', '323243234358', '233323323548',
            '324233234457', '232332343558'
        ];

        // ---- panel H motif heatmap, -log10 FDR
        var hNames = ['CLL1', 'CLL2', 'CLL3', 'CLL4', 'CLL6', 'CLL5'];
        var hRows = [
            [130, 132, 128, 130, 50, 44, 44, 44, 44, 44, 70, 88, 45, 45, 48, 46, 46, 46, 46, 46, 46, 50, 50, 50, 50, 50, 50, 50, 50, 50, 50, 50],
            [85, 78, 90, 85, 100, 100, 96, 95, 92, 92, 75, 30, 88, 88, 48, 46, 46, 46, 46, 46, 46, 28, 28, 28, 28, 28, 48, 28, 28, 28, 28, 28],
            [112, 128, 122, 122, 50, 30, 30, 30, 30, 30, 60, 48, 32, 32, 42, 34, 34, 34, 34, 34, 34, 70, 70, 50, 50, 65, 30, 58, 58, 58, 40, 75],
            [136, 136, 85, 85, 65, 35, 35, 35, 35, 35, 60, 108, 40, 40, 40, 40, 40, 40, 40, 40, 40, 40, 40, 40, 40, 40, 50, 42, 42, 42, 42, 42],
            [130, 130, 110, 108, 45, 75, 58, 58, 62, 50, 48, 85, 44, 36, 60, 42, 42, 42, 42, 42, 42, 36, 36, 36, 36, 36, 36, 36, 36, 36, 36, 36],
            [36, 36, 36, 36, 36, 36, 36, 36, 36, 36, 36, 36, 36, 36, 36, 36, 36, 36, 36, 36, 36, 108, 108, 108, 100, 92, 30, 92, 92, 96, 98, 76]
        ];

        var FONT = 'Liberation Sans';
        var INK = '#231F20';
        var grids = [], xAxes = [], yAxes = [], series = [], graphics = [];
        var vmGroups = { mut: [], cnv: [], peak: [], g: [], h: [] };

        function range(n) {
            var a = [];
            for (var i = 0; i < n; i++) a.push(i);
            return a;
        }
        function zip(a, b) {
            return a.map(function (v, i) { return [v, b[i]]; });
        }

        // heatmap plus a hidden value-axis pair on top, used for white breaks and boxes
        function addHeat(box, rows, group, opts) {
            opts = opts || {};
            var g = grids.length;
            grids.push({ left: box[0], top: box[1], width: box[2], height: box[3] });
            var nCols = rows[0].length, nRows = rows.length;
            var xi = xAxes.length, yi = yAxes.length;
            xAxes.push({
                type: 'category', gridIndex: g, data: opts.xNames || range(nCols),
                axisLine: { show: false }, axisTick: { show: false }, splitLine: { show: false },
                axisLabel: opts.xNames ? { show: true, interval: 0, rotate: 90, fontSize: 22, color: INK, margin: 10 } : { show: false }
            });
            yAxes.push({
                type: 'category', gridIndex: g, inverse: true, data: opts.yNames || range(nRows),
                axisLine: { show: false }, axisTick: { show: false }, splitLine: { show: false },
                axisLabel: opts.yNames ? { show: true, interval: 0, fontSize: opts.labelSize || 26, color: INK, margin: 7 } : { show: false }
            });
            var data = [];
            for (var r = 0; r < nRows; r++) {
                for (var c = 0; c < nCols; c++) {
                    var v = rows[r][c];
                    data.push([c, r, v === undefined ? 4 : +v]);
                }
            }
            vmGroups[group].push(series.length);
            series.push({
                type: 'heatmap', xAxisIndex: xi, yAxisIndex: yi, data: data,
                progressive: 0, silent: true, emphasis: { disabled: true }
            });
            var overX = xAxes.length, overY = yAxes.length;
            xAxes.push({ type: 'value', gridIndex: g, show: false, min: 0, max: 1 });
            var overYAxis = { type: 'value', gridIndex: g, show: false, inverse: true, min: 0, max: nRows };
            if (opts.chr) {
                overYAxis.show = true;
                overYAxis.position = 'left';
                overYAxis.axisLine = { show: false };
                overYAxis.axisTick = { show: false };
                overYAxis.splitLine = { show: false };
                overYAxis.axisLabel = {
                    customValues: chrMidRows, fontSize: 20, color: INK, margin: 8,
                    formatter: function (val) { return chrNames[chrMidRows.indexOf(val)]; }
                };
            }
            yAxes.push(overYAxis);
            var lines = [];
            (opts.xBreaks || []).forEach(function (x) { lines.push([x, 0], [x, nRows], ['-', '-']); });
            (opts.yBreaks || []).forEach(function (y) { lines.push([0, y], [1, y], ['-', '-']); });
            if (lines.length) {
                series.push({
                    type: 'line', xAxisIndex: overX, yAxisIndex: overY, data: lines, showSymbol: false, silent: true,
                    lineStyle: { color: opts.breakColor || '#fff', width: opts.breakWidth || 1.6 }, z: 3
                });
            }
            (opts.boxes || []).forEach(function (b) {
                series.push({
                    type: 'line', xAxisIndex: overX, yAxisIndex: overY, showSymbol: false, silent: true, z: 4,
                    data: [[b[0], b[2]], [b[1], b[2]], [b[1], b[3]], [b[0], b[3]], [b[0], b[2]]],
                    lineStyle: { color: b[4], width: 3 }
                });
            });
            frame(box);
        }

        function frame(box, width) {
            graphics.push({
                type: 'rect', z: 60, silent: true, shape: { x: box[0], y: box[1], width: box[2], height: box[3] },
                style: { fill: null, stroke: '#231F20', lineWidth: width || 2.5 }
            });
        }
        function T(x, y, text, size, o) {
            o = o || {};
            var style = {
                text: text, fontSize: size, fontFamily: FONT, fontWeight: o.b ? 'bold' : 'normal', fill: o.c || INK,
                align: o.a || 'center', verticalAlign: 'middle'
            };
            if (o.rich) {
                style.rich = { i: { fontStyle: 'italic', fontSize: size, fontFamily: FONT, fill: o.c || INK } };
            }
            graphics.push({ type: 'text', z: 70, silent: true, x: x, y: y, rotation: o.r || 0, style: style });
        }
        function L(points, o) {
            o = o || {};
            graphics.push({
                type: 'polyline', z: 65, silent: true, shape: { points: points },
                style: { fill: null, stroke: o.c || INK, lineWidth: o.w || 1.5, lineDash: o.dash || null }
            });
        }
        function head(x, y, ang, c, size) {
            var s = size || 8;
            graphics.push({
                type: 'polygon', z: 65, silent: true,
                shape: { points: [[x, y], [x - s * Math.cos(ang) + s * 0.45 * Math.sin(ang), y - s * Math.sin(ang) - s * 0.45 * Math.cos(ang)], [x - s * Math.cos(ang) - s * 0.45 * Math.sin(ang), y - s * Math.sin(ang) + s * 0.45 * Math.cos(ang)]] },
                style: { fill: c || INK }
            });
        }
        function R(x, y, w, h, c) {
            graphics.push({ type: 'rect', z: 62, silent: true, shape: { x: x, y: y, width: w, height: h }, style: { fill: c } });
        }
        function colorBar(box, stops) {
            graphics.push({
                type: 'rect', z: 62, silent: true, shape: { x: box[0], y: box[1], width: box[2], height: box[3] },
                style: {
                    fill: new echarts.graphic.LinearGradient(0, 0, 1, 0, stops.map(function (c, i) { return { offset: i / (stops.length - 1), color: c }; })),
                    stroke: INK, lineWidth: 2
                }
            });
        }

        // plain axes pair with nothing shown, returns indices
        function plainGrid(box, xr, yr, yInverse) {
            var g = grids.length;
            grids.push({ left: box[0], top: box[1], width: box[2], height: box[3] });
            xAxes.push({ type: 'value', gridIndex: g, show: false, min: xr[0], max: xr[1] });
            yAxes.push({ type: 'value', gridIndex: g, show: false, min: yr[0], max: yr[1], inverse: !!yInverse });
            return { x: xAxes.length - 1, y: yAxes.length - 1 };
        }

        function addBand(ax, days, lo, hi, color) {
            series.push({
                type: 'custom', xAxisIndex: ax.x, yAxisIndex: ax.y, silent: true, clip: true,
                data: days.map(function (d, i) { return [d, lo[i], hi[i]]; }),
                encode: { x: 0, y: [1, 2] },
                renderItem: function (params, api) {
                    if (params.dataIndex !== 0) return;
                    var top = days.map(function (d, i) { return api.coord([d, hi[i]]); });
                    var bot = days.map(function (d, i) { return api.coord([d, lo[i]]); }).reverse();
                    return { type: 'polygon', shape: { points: top.concat(bot), smooth: 0.22 }, style: { fill: color } };
                }
            });
        }

        // UMAP cells come through the panel's own axes, two staggered dots per 3-unit cell
        function addCells(ax, cells, colors, size, symbol) {
            Object.keys(colors).forEach(function (key) {
                var pts = [];
                cells.forEach(function (c) {
                    for (var i = 0; i < c[2].length; i++) {
                        if (c[2][i] === key) {
                            pts.push([(c[1] + i) * 3 + 0.75, c[0] * 3 + 0.75]);
                            pts.push([(c[1] + i) * 3 + 2.25, c[0] * 3 + 2.25]);
                        }
                    }
                });
                series.push({
                    type: 'scatter', xAxisIndex: ax.x, yAxisIndex: ax.y, data: pts, silent: true,
                    symbol: symbol || 'circle', symbolSize: size, itemStyle: { color: colors[key] }
                });
            });
        }
        function addOutline(ax, pts) {
            series.push({
                type: 'line', xAxisIndex: ax.x, yAxisIndex: ax.y, data: pts, showSymbol: false, silent: true, smooth: 0.25, z: 3,
                lineStyle: { color: '#111', width: 1.6 }
            });
        }

        // ---------- panel A
        T(56, 33, 'A', 52, { b: true });
        T(387, 53, 'CLL4', 32);
        T(273, 98, 'Pre-FCR', 26);
        T(487, 98, 'Relapse post-RIC', 26);
        addHeat([169, 118, 209, 286], cll4PreMut, 'mut', { yNames: cll4Mutations, xBreaks: cll4PreBreaks, breakWidth: 2 });
        addHeat([387, 118, 209, 286], cll4PostMut, 'mut', { xBreaks: cll4PostBreaks, breakWidth: 2 });
        T(275, 426, '1,000 cells', 23);
        T(490, 426, '1,000 cells', 23);
        T(367, 466, '% Heteroplasmy', 23);
        T(285, 493, '0', 24);
        T(461, 493, '10', 24);
        colorBar([305, 485, 133, 13], ['#ffffff', '#F6A99A', '#E8262B']);
        addHeat([167, 542, 211, 654], cll4PreCnv, 'cnv', { chr: true, xBreaks: cll4PreBreaks, yBreaks: chrBreakRows });
        addHeat([386, 542, 210, 654], cll4PostCnv, 'cnv', { xBreaks: cll4PostBreaks, yBreaks: chrBreakRows });
        L([[147, 1140], [147, 1176]], { w: 1.5 });
        T(108, 857, 'Chromosomes', 26, { r: Math.PI / 2 });
        T(160, 1225, '93 differential', 20, { a: 'right' });
        T(160, 1252, 'chromatin peaks', 20, { a: 'right' });
        addHeat([167, 1216, 211, 43], cll4PrePeaks, 'peak', { xBreaks: cll4PreBreaks, breakWidth: 1.5 });
        addHeat([386, 1216, 210, 43], cll4PostPeaks, 'peak', { xBreaks: cll4PostBreaks, breakWidth: 1.5 });
        [706, 992, 1116].forEach(function (y) {
            L([[623, y], [606, y]], { c: '#8E1B8E', w: 2 });
            head(601, y, Math.PI, '#8E1B8E', 8);
        });

        // UMAP column of panel A
        var umapBoxes = [[681, 20, 185, 184], [681, 217, 185, 184], [681, 415, 185, 184], [681, 612, 185, 184], [681, 810, 185, 184]];
        var RED = '#E8202A', GREY = '#BDBDBD';
        var umapColors = [
            { y: '#FFD400', o: '#F9A11B', m: '#1B6B3A', t: '#AEDBEA', b: '#F9A11B' },
            { y: RED, o: RED, m: '#C9B2B2', t: GREY, b: '#D99' },
            { y: '#E8414B', o: GREY, m: GREY, t: GREY, b: GREY },
            { y: GREY, o: RED, m: '#C9A0A0', t: GREY, b: GREY },
            { y: GREY, o: RED, m: '#C9A0A0', t: GREY, b: GREY }
        ];
        umapBoxes.forEach(function (box, i) {
            var ax = plainGrid(box, [0, 185], [0, 184], true);
            addCells(ax, umapCellsA, umapColors[i], i === 0 ? 3.2 : 2.2, i === 0 ? 'rect' : 'circle');
            if (i === 0) {
                [outlinePreA, outlinePostA, outlineMonoA, outlineTA, outlineBA].forEach(function (o) { addOutline(ax, o); });
            }
            frame(box);
        });
        T(709, 57, 'CLL', 21);
        T(709, 75, 'post', 21);
        T(782, 35, 'CLL', 21);
        T(778, 53, 'pre', 21);
        T(802, 104, 'Mono', 21);
        T(733, 177, 'B cell', 21);
        T(821, 174, 'T cell', 21);
        L([[706, 89], [712, 103]]);
        L([[797, 50], [815, 53]]);
        L([[810, 157], [824, 167]]);
        T(742, 237, '3538G>A', 22);
        T(741, 434, '16247A>G', 21);
        T(741, 633, '6426G>A', 22);
        T(741, 829, '16290C>T', 21);
        T(658, 482, 'UMAP2', 26, { r: Math.PI / 2 });
        T(775, 1016, 'UMAP1', 26);
        L([[603, 115], [619, 115], [663, 214], [679, 214]], { w: 2, dash: [10, 7] });
        L([[603, 242], [619, 242], [652, 992], [676, 992]], { w: 2, dash: [10, 7] });
        T(757, 1157, 'CNV Z-score', 26);
        T(667, 1181, '-4', 24);
        T(840, 1181, '4', 24);
        colorBar([690, 1176, 133, 13], ['#1F4E9E', '#2A7CC7', '#5DBDEB', '#CFD7D2', '#F7D040', '#F29720', '#C8202A']);
        T(757, 1225, 'Peak accessibility', 26);
        T(673, 1257, '0', 24);
        T(841, 1257, '4', 24);
        colorBar([692, 1250, 131, 14], ['#FFFDE0', '#FEE48A', '#FBC33C', '#F3784D', '#DC5A5C', '#B2585E']);

        // ---------- panel C
        T(955, 33, 'C', 52, { b: true });
        T(1252, 39, 'CLL5', 32);
        T(1152, 83, 'Pre-FCR', 26);
        T(1366, 83, 'Relapse post-RIC', 26);
        addHeat([1047, 100, 211, 317], cll5PreMut, 'mut', { yNames: cll5Mutations, xBreaks: cll5PreBreaks, breakWidth: 2 });
        addHeat([1264, 100, 211, 317], cll5PostMut, 'mut', { xBreaks: cll5PostBreaks, breakWidth: 2 });
        T(1152, 438, '2,000 cells', 23);
        T(1369, 438, '706 cells', 23);
        T(1252, 465, '% Heteroplasmy', 23);
        T(1175, 493, '0', 24);
        T(1339, 493, '10', 24);
        colorBar([1189, 485, 134, 13], ['#ffffff', '#F6A99A', '#E8262B']);
        addHeat([1047, 542, 211, 654], cll5PreCnv, 'cnv', {
            chr: true, xBreaks: cll5PreBreaks, yBreaks: chrBreakRows,
            boxes: [[0.014, 0.685, 24.3, 28.4, '#2B3A8E'], [0.685, 0.87, 28.3, 32.2, '#E8962E'], [0.014, 0.685, 55.6, 58, '#2B3A8E']]
        });
        addHeat([1264, 542, 211, 654], cll5PostCnv, 'cnv', { xBreaks: cll5PostBreaks, yBreaks: chrBreakRows });
        L([[1025, 1140], [1025, 1176]], { w: 1.5 });
        T(984, 857, 'Chromosomes', 26, { r: Math.PI / 2 });
        T(1037, 1225, '114 differential', 20, { a: 'right' });
        T(1037, 1252, 'chromatin peaks', 20, { a: 'right' });
        addHeat([1047, 1216, 211, 43], cll5PrePeaks, 'peak', { xBreaks: cll5PreBreaks, breakWidth: 1.5 });
        addHeat([1264, 1216, 211, 43], cll5PostPeaks, 'peak', { xBreaks: cll5PostBreaks, breakWidth: 1.5 });

        // ---------- panel B
        function dashedDay(ax, day) {
            series.push({ type: 'line', xAxisIndex: ax.x, yAxisIndex: ax.y, data: [[day, 317], [day, -348]], showSymbol: false, silent: true, z: 5, lineStyle: { color: '#111', width: 2.5, type: [9, 6] } });
            series.push({ type: 'line', xAxisIndex: ax.x, yAxisIndex: ax.y, data: [[day, -348], [day, -391]], showSymbol: false, silent: true, z: 5, lineStyle: { color: '#111', width: 2.5 } });
        }
        var bBox = [39, 1361, 705, 241];
        var bAx = plainGrid(bBox, [2032, 5295], [-391, 329]);
        addBand(bAx, bGrayDays, bGrayBottom, bGrayTop, '#CDCFD1');
        addBand(bAx, bYellowDays, bYellowBottom, bYellowTop, '#F5EB14');
        addBand(bAx, bPurpleDays, bPurpleBottom, bPurpleTop, '#6A4C9F');
        addBand(bAx, bGreenDays, bGreenBottom, bGreenTop, '#67BC45');
        addBand(bAx, bOrangeDays, bOrangeBottom, bOrangeTop, '#F8A654');
        addBand(bAx, bBlueDays, bBlueBottom, bBlueTop, '#649ED6');
        dashedDay(bAx, 3242);
        dashedDay(bAx, 5221);
        frame(bBox);
        T(58, 1320, 'B', 52, { b: true });
        T(303, 1322, 'FCR', 24);
        T(359, 1322, 'RIC', 24);
        R(302, 1334, 24, 23, '#29ABE2');
        R(336, 1334, 24, 23, '#EF4136');
        T(92, 1400, '3538G>A', 19);
        T(93, 1421, '{i|del}(4p)', 19, { rich: true });
        T(245, 1401, '16247A>G', 19);
        T(246, 1420, '{i|del}(11q)', 19, { rich: true });
        T(380, 1420, '13916G>A', 19, { c: '#5B3E9E' });
        L([[339, 1437], [305, 1455]], { c: '#5B3E9E', w: 2 });
        T(377, 1521, '4344T>C', 19, { c: '#5BB947' });
        L([[337, 1506], [314, 1485]], { c: '#5BB947', w: 2 });
        T(619, 1392, '6462G>A', 19, { c: '#E8691E' });
        T(618, 1413, '{i|del}(17p)', 19, { c: '#E8691E', rich: true });
        L([[645, 1431], [644, 1471]], { c: '#E8691E', w: 2 });
        T(625, 1529, '16290C>T', 19, { c: '#5B9BD5' });
        L([[680, 1477], [662, 1513]], { c: '#5B9BD5', w: 2 });
        L([[77.6, 1434], [77.6, 1471]], { w: 2 });
        L([[236.5, 1432], [236.5, 1471]], { w: 2 });
        graphics.push({ type: 'circle', z: 65, silent: true, shape: { cx: 77.6, cy: 1471, r: 3.5 }, style: { fill: '#111' } });
        graphics.push({ type: 'circle', z: 65, silent: true, shape: { cx: 236.5, cy: 1471, r: 3.5 }, style: { fill: '#111' } });
        T(306, 1620, '3242', 23);
        T(717, 1620, '5221', 23);
        T(508, 1634, 'Days from diagnosis', 23);

        // ---------- panel D
        var dBox = [781, 1361, 711, 241];
        var dAx = plainGrid(dBox, [-130, 1395], [-391, 329]);
        addBand(dAx, dDays, dRedTop, dGrayTop, '#CDCFD1');
        addBand(dAx, dDays, dOrangeTop, dRedTop, '#EE1C25');
        addBand(dAx, dDays, dGreenTop, dOrangeTop, '#F6801F');
        addBand(dAx, dDays, dBlueTop, dGreenTop, '#63B846');
        addBand(dAx, dDays, dPurpleTop, dBlueTop, '#93C1E8');
        addBand(dAx, dDays, dPurpleBottom, dPurpleTop, '#A33C96');
        dashedDay(dAx, 451);
        dashedDay(dAx, 1371);
        frame(dBox);
        T(798, 1320, 'D', 52, { b: true });
        T(1063, 1322, 'FCR', 24);
        T(1208, 1322, 'RIC', 24);
        R(1051, 1334, 24, 23, '#29ABE2');
        R(1194, 1334, 24, 23, '#EF4136');
        T(853, 1387, '2332C>T', 18);
        T(854.5, 1411, '{i|del}(6q), {i|del}(17p)', 18, { rich: true });
        L([[831, 1434], [831, 1471]], { w: 2 });
        graphics.push({ type: 'circle', z: 65, silent: true, shape: { cx: 831, cy: 1471, r: 3.5 }, style: { fill: '#111' } });
        T(1110, 1500, '5979G>A', 18, { a: 'left', c: '#ED1C24' });
        T(1110, 1522, '2776G>A', 18, { a: 'left', c: '#F58220' });
        T(1110, 1543, '4412G>A', 18, { a: 'left', c: '#62BB46' });
        T(1110, 1564, '11700T>C', 18, { a: 'left', c: '#8DBFE9' });
        T(1110, 1586, '11886T>C', 18, { a: 'left', c: '#A6389A' });
        graphics.push({ type: 'ellipse', z: 65, silent: true, shape: { cx: 1425, cy: 1483, rx: 12.6, ry: 44 }, style: { fill: null, stroke: '#111', lineWidth: 2 } });
        T(1426, 1539, '{i|tri}(7),', 19, { rich: true });
        T(1424, 1557, '{i|del}(8p)', 19, { rich: true });
        R(1394, 1579, 12, 10, '#F9A24C');
        R(1411, 1579, 12, 10, '#62B846');
        R(1427, 1579, 12, 10, '#8DC0E8');
        R(1443, 1579, 12, 10, '#A03C96');
        T(1055, 1620, '451', 23);
        T(1476, 1620, '1371', 23);
        T(1293, 1632, 'Days from diagnosis', 23);

        // ---------- panel E
        T(1535, 30, 'E', 52, { b: true });
        var e1Box = [1630, 16, 186, 185], e2Box = [1835, 16, 186, 185];
        var e1Ax = plainGrid(e1Box, [0, 186], [0, 185], true);
        addCells(e1Ax, umapCellsE1, { o: '#F7941D', y: '#F2EA1C', t: '#A9D6E5', m: '#1B6B3A', b: '#F9C53C' }, 3.2, 'rect');
        [outlinePostE, outlinePreE, outlineTE, outlineMonoE, outlineBE].forEach(function (o) { addOutline(e1Ax, o); });
        frame(e1Box);
        var e2Ax = plainGrid(e2Box, [0, 186], [0, 185], true);
        addCells(e2Ax, umapCellsE2, { g: '#B5B5B5', b: '#3953A4', o: '#F7941D' }, 2.6);
        frame(e2Box);
        frame([1902, 58, 59.5, 72]);
        L([[1898, 132], [1861.5, 220]], { w: 2, dash: [10, 7] });
        L([[1963.5, 132], [2000, 220]], { w: 2, dash: [10, 7] });
        T(1689, 32, 'B cell', 20);
        T(1754, 32, 'Mono', 20);
        L([[1782, 32], [1792, 32]]);
        T(1654, 108, 'CLL', 20);
        T(1655, 129, 'post', 20);
        T(1786, 94, 'CLL', 20);
        T(1783, 116, 'pre', 20);
        T(1702, 183, 'T cell', 20);
        L([[1694, 43], [1703, 55]]);
        L([[1666, 88], [1653, 98]]);
        L([[1746, 97], [1765, 100]]);
        L([[1658, 175], [1673, 186]]);
        L([[1623, 85], [1623, 209], [1747, 209]]);
        head(1623, 83, -Math.PI / 2, INK, 8);
        head(1750, 209, 0, INK, 8);
        T(1604, 147, 'UMAP2', 26, { r: Math.PI / 2 });
        T(1688, 227, 'UMAP1', 26);

        var scatterTicks = [-2, -1, 0, 1, 2];
        var scatterNames = ['ND', '0.1', '1', '10', '100'];
        function scatterAxis(g, range, margin) {
            return {
                type: 'value', gridIndex: g, min: range[0], max: range[1], splitLine: { show: false },
                axisLine: { show: true, onZero: false, lineStyle: { color: INK, width: 2 } },
                axisTick: { customValues: scatterTicks, length: 6, lineStyle: { color: INK, width: 2 } },
                axisLabel: {
                    customValues: scatterTicks, color: INK, fontSize: 25, margin: margin,
                    formatter: function (v) { var n = scatterNames[scatterTicks.indexOf(v)]; return n === 'ND' ? '{nd|ND}' : '{v|' + n + '}'; },
                    rich: { nd: { fontSize: 20, color: INK, fontFamily: FONT }, v: { fontSize: 25, color: INK, fontFamily: FONT } }
                }
            };
        }
        var eGrid = grids.length;
        grids.push({ left: 1847, top: 238, width: 168, height: 186 });
        xAxes.push(scatterAxis(eGrid, [-2.354, 2.2], 10));
        yAxes.push(scatterAxis(eGrid, [-2.35, 2.18], 8));
        var exi = xAxes.length - 1, eyi = yAxes.length - 1;
        series.push({ type: 'scatter', xAxisIndex: exi, yAxisIndex: eyi, data: [[-2, -2.02]], symbol: 'roundRect', symbolSize: 15, silent: true, itemStyle: { color: '#BDBDBD' } });
        series.push({ type: 'scatter', xAxisIndex: exi, yAxisIndex: eyi, data: zip(cloneGrayX, cloneGrayY), symbolSize: 5, silent: true, itemStyle: { color: '#BDBDBD' } });
        series.push({ type: 'scatter', xAxisIndex: exi, yAxisIndex: eyi, data: zip(clone2X, clone2Y), symbolSize: 5.5, silent: true, itemStyle: { color: '#F9A11B' } });
        series.push({ type: 'scatter', xAxisIndex: exi, yAxisIndex: eyi, data: zip(clone1X, clone1Y), symbolSize: function (d) { return d[1] === -2.02 ? 15 : 5; }, silent: true, itemStyle: { color: '#3953A4' } });
        T(1767, 330, '% 5979G>A', 27, { r: Math.PI / 2 });
        T(1933, 480, '% 2332C>T', 27);
        R(1582, 358, 13, 13, '#3953A4');
        T(1606, 364, 'Clone 1', 25, { a: 'left' });
        T(1606, 391, '(2332C>T)', 23.5, { a: 'left' });
        R(1582, 423, 13, 13, '#F7941D');
        T(1606, 429, 'Clone 2', 25, { a: 'left' });
        T(1606, 457, '(5979G>A)', 23.5, { a: 'left' });

        // ---------- panel F
        T(1533, 536, 'F', 52, { b: true });
        T(1739, 550, 'Clone 2', 26);
        T(1929, 550, 'Clone 1', 26);
        L([[1684, 566], [1985, 566]]);
        head(1680, 566, Math.PI, INK, 8);
        head(1989, 566, 0, INK, 8);
        var fGrid = grids.length;
        grids.push({ left: 1645.4, top: 576, width: 411, height: 224.3 });
        xAxes.push({
            type: 'value', gridIndex: fGrid, min: -2.28, max: 2.6, splitLine: { show: false },
            axisLine: { onZero: false, lineStyle: { color: INK, width: 2 } },
            axisTick: { customValues: [-2, -1, 0, 1, 2], length: 10, lineStyle: { color: INK, width: 2 } },
            axisLabel: { customValues: [-2, -1, 0, 1, 2], fontSize: 27, color: INK, margin: 12 }
        });
        yAxes.push({
            type: 'value', gridIndex: fGrid, min: -2.66, max: 55.3, splitLine: { show: false },
            axisLine: { onZero: false, lineStyle: { color: INK, width: 2 } },
            axisTick: { customValues: [0, 20, 40], length: 15, lineStyle: { color: INK, width: 2 } },
            axisLabel: { customValues: [0, 20, 40], fontSize: 27, color: INK, margin: 10 }
        });
        var fxi = xAxes.length - 1, fyi = yAxes.length - 1;
        series.push({ type: 'scatter', xAxisIndex: fxi, yAxisIndex: fyi, data: zip(volcanoGrayX, volcanoGrayY), symbolSize: 5, silent: true, itemStyle: { color: '#555555' } });
        series.push({ type: 'scatter', xAxisIndex: fxi, yAxisIndex: fyi, data: zip(volcanoBlueX, volcanoBlueY), symbolSize: 4.5, silent: true, itemStyle: { color: '#5B7FC7', opacity: 0.9 } });
        series.push({ type: 'scatter', xAxisIndex: fxi, yAxisIndex: fyi, data: zip(volcanoHitX, volcanoHitY), symbol: 'rect', symbolSize: 8, silent: true, itemStyle: { color: '#EE1B5B' } });
        [[[-1, 53.5], [-1, -2.66]], [[1, 53.5], [1, -2.66]], [[-2.28, 5], [2.55, 5]]].forEach(function (d) {
            series.push({ type: 'line', xAxisIndex: fxi, yAxisIndex: fyi, data: d, showSymbol: false, silent: true, lineStyle: { color: '#111', width: 2, type: [7, 5] } });
        });
        T(1703, 597, 'ZFB42', 21.5);
        T(1720, 619, 'YY1', 21.5);
        T(1715, 646, 'PBX3', 21.5);
        T(1985, 626, 'BCL11A', 21.5);
        T(1968, 657, 'POU2F2', 21.5);
        T(1971, 687, 'SPI1', 21.5);
        T(1558, 736, '-log', 25, { r: Math.PI / 2, a: 'center' });
        T(1565, 702, '10', 16, { r: Math.PI / 2 });
        T(1558, 660, '(FDR)', 25, { r: Math.PI / 2 });
        T(1851, 863, 'Difference in accessibility', 26.5);

        // ---------- panel G
        T(1536, 911, 'G', 52, { b: true });
        T(1683, 922, 'FCR', 26);
        T(1885, 922, 'FCR + RIC', 26);
        L([[1586, 943], [1586, 937], [1783, 937], [1783, 943]], { w: 2 });
        L([[1790, 943], [1790, 937], [1984, 937], [1984, 943]], { w: 2 });
        function gp(zx, zy) { return [1500 + zx / 2.6, 890 + zy / 3]; }
        [
            [[266, 332], [266, 250], [352, 250], [352, 332]], [[437, 332], [437, 250], [523, 250], [523, 332]],
            [[608, 332], [608, 250], [695, 250], [695, 332]], [[780, 332], [780, 263], [866, 263], [866, 332]],
            [[950, 332], [950, 250], [1037, 250], [1037, 332]], [[1122, 332], [1122, 243], [1208, 243], [1208, 332]],
            [[309, 250], [309, 210], [758, 210], [758, 218]], [[480, 250], [480, 232], [651, 232], [651, 250]],
            [[565, 232], [565, 218], [953, 218], [953, 228]], [[823, 263], [823, 228], [1080, 228]],
            [[993, 250], [993, 232], [1165, 232], [1165, 243]]
        ].forEach(function (p) { L(p.map(function (q) { return gp(q[0], q[1]); }), { w: 2 }); });
        T(1618, 1014, 'CLL1', 21);
        T(1683.5, 1014, 'CLL3', 21);
        T(1749, 1014, 'CLL2', 21);
        T(1816, 1014, 'CLL6', 21);
        T(1882, 1014, 'CLL5', 21);
        T(1945, 1014, 'CLL4', 21);
        T(1558, 1133, '47,720 chromatin peaks', 21, { r: Math.PI / 2 });
        addHeat([1589, 1027, 395, 211], gRows, 'g', { xNames: gNames, xBreaks: [0.5], breakColor: '#231F20', breakWidth: 2.5 });
        T(2049, 1167, 'Row', 21);
        T(2051, 1189, 'Z\u2212Scores', 21);
        colorBar([2010, 1207, 82, 15], ['#2F6DB4', '#57B5E8', '#D8D0B0', '#F8B232', '#E2502A', '#A8201E']);
        T(2008, 1238, '\u22122', 21);
        T(2089, 1238, '2', 21);

        // ---------- panel H
        T(1534, 1320, 'H', 52, { b: true });
        T(1856, 1355, '-log', 23);
        T(1888, 1361, '10', 15);
        T(1936, 1355, '(FDR)', 23);
        T(1840, 1381, '0', 21);
        T(1960, 1381, '136', 21);
        colorBar([1856, 1373, 80, 14], ['#FFFFFF', '#C6C6C8', '#8C8CBE', '#23288C']);
        addHeat([1606, 1399, 372, 117], hRows, 'h', { yNames: hNames, labelSize: 22 });
        function hp(zx, zy) { return [1500 + zx / 2.6, 1300 + zy / 3]; }
        var hLeaders = [[288, 288], [318, 337], [348, 387], [378, 443], [408, 498], [920, 708], [953, 752], [987, 822], [1020, 865], [1052, 920], [1110, 1012], [1143, 1075], [1175, 1135], [1205, 1195], [1236, 1252]];
        hLeaders.forEach(function (p) { L([hp(p[0], 660), hp(p[0], 690), hp(p[1], 775)], { w: 1.5 }); });
        var hLabels = [['SPIB', 285], ['SPI1', 345], ['BCL11B', 402], ['BCL11A', 460], ['IRF1', 518], ['SP6', 700], ['SP5', 745], ['SP2', 808], ['SP1', 868], ['KLF16', 918], ['SP4', 1015], ['KLF14', 1077], ['KLF11', 1137], ['WT1', 1198], ['KLF2', 1258]];
        hLabels.forEach(function (p) {
            var q = hp(p[1], 795);
            T(q[0], q[1], p[0], 20, { r: Math.PI / 2, a: 'right' });
        });

        var dom = document.getElementById('main');
        var myChart = echarts.init(dom, null, { width: 2100, height: 1652 });
        var option = {
            animation: false,
            backgroundColor: '#ffffff',
            textStyle: { fontFamily: FONT },
            grid: grids,
            xAxis: xAxes,
            yAxis: yAxes,
            visualMap: [
                { type: 'continuous', show: false, seriesIndex: vmGroups.mut, dimension: 2, min: 0, max: 9, inRange: { color: ['#FFFFFF', '#FFF0F0', '#FDE0E0', '#FBCDCE', '#F9BABB', '#F7A5A7', '#F58D90', '#F37377', '#F0565C', '#E8262B'] } },
                { type: 'continuous', show: false, seriesIndex: vmGroups.cnv, dimension: 2, min: 0, max: 9, inRange: { color: ['#2A5CA8', '#3F7DC4', '#6EA6D6', '#8FC2DE', '#A4D0E2', '#C5D8C0', '#C9D8B4', '#F2C14E', '#EE7B2A', '#C53A2A'] } },
                { type: 'continuous', show: false, seriesIndex: vmGroups.peak, dimension: 2, min: 0, max: 9, inRange: { color: ['#FFFFFF', '#FDEBD6', '#F9D3B2', '#F2A678', '#E87D56', '#D9624C', '#C9504A', '#B2585E', '#A04A50', '#903C44'] } },
                { type: 'continuous', show: false, seriesIndex: vmGroups.g, dimension: 2, min: 0, max: 9, inRange: { color: ['#3A78C0', '#4C9BD8', '#5FB3E4', '#7DBFDC', '#9DBECB', '#C8C0A0', '#E6C078', '#F08A3C', '#D03A26', '#A8201E'] } },
                { type: 'continuous', show: false, seriesIndex: vmGroups.h, dimension: 2, min: 0, max: 136, inRange: { color: ['#FFFFFF', '#D8D8D8', '#C2C2C6', '#9090BC', '#5A5FB0', '#23288C'] } }
            ],
            series: series,
            graphic: { elements: graphics }
        };
        if (option && typeof option === 'object') {
            myChart.setOption(option);
        }
    </script>
</body>

</html>
